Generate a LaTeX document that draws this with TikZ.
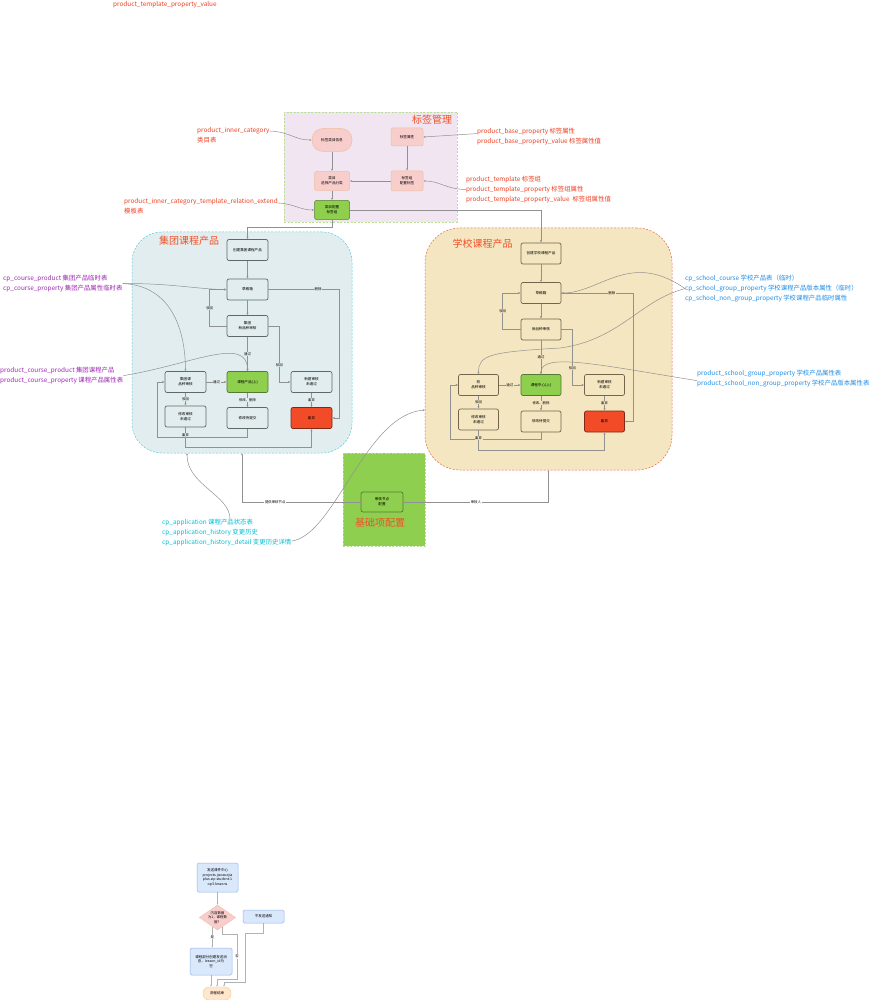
\documentclass[tikz,border=0pt]{standalone}
\usepackage{fontspec}
\setmainfont{Noto Sans CJK SC}
\usetikzlibrary{arrows.meta,positioning,shapes.geometric}

\definecolor{tagbg}{RGB}{240,229,240}
\definecolor{tagline}{RGB}{185,222,150}
\definecolor{grpbg}{RGB}{225,237,238}
\definecolor{grpline}{RGB}{80,205,220}
\definecolor{grpedge}{RGB}{95,105,105}
\definecolor{schbg}{RGB}{243,230,192}
\definecolor{schline}{RGB}{240,100,70}
\definecolor{schedge}{RGB}{115,100,75}
\definecolor{basebg}{RGB}{143,207,79}
\definecolor{baseedge}{RGB}{190,220,160}
\definecolor{okgreen}{RGB}{142,208,78}
\definecolor{okedge}{RGB}{85,120,50}
\definecolor{badred}{RGB}{242,75,40}
\definecolor{badedge}{RGB}{130,40,20}
\definecolor{pinkbox}{RGB}{248,206,204}
\definecolor{pinkedge}{RGB}{240,190,160}
\definecolor{titlered}{RGB}{242,80,40}
\definecolor{tabred}{RGB}{238,62,32}
\definecolor{tabpurple}{RGB}{156,39,176}
\definecolor{tabblue}{RGB}{30,140,230}
\definecolor{tabcyan}{RGB}{0,188,212}
\definecolor{flowblue}{RGB}{218,232,252}
\definecolor{flowedge}{RGB}{150,180,230}
\definecolor{endbox}{RGB}{255,230,204}
\definecolor{endedge}{RGB}{245,200,150}
\definecolor{linegray}{RGB}{145,145,145}

\tikzset{
  txt/.style={font=\fontsize{3.6}{4.8}\selectfont, align=center},
  tab/.style={font=\fontsize{6.4}{9.9}\selectfont, align=left, inner sep=0pt, anchor=north west},
  title/.style={font=\fontsize{10}{12}\selectfont, text=titlered},
  zone/.style={dash pattern=on 2pt off 1.5pt, line width=0.5pt, inner sep=0pt, outer sep=0pt},
  gbox/.style={txt, draw=grpedge, fill=grpbg, line width=0.7pt, rounded corners=2pt,
    minimum width=41pt, minimum height=21pt, inner sep=0.5pt},
  sbox/.style={gbox, draw=schedge, fill=schbg, minimum width=40pt},
  tbox/.style={txt, draw=pinkedge, fill=pinkbox, line width=0.5pt, rounded corners=2pt,
    minimum width=33pt, minimum height=19pt, inner sep=0.5pt},
  okbox/.style={fill=okgreen, draw=okedge},
  badbox/.style={fill=badred, draw=badedge},
  link/.style={draw=linegray, line width=0.5pt, -{Latex[length=2.2pt,width=2pt]}},
  elab/.style={txt, font=\fontsize{3.4}{4}\selectfont, inner sep=0.6pt},
  fbox/.style={txt, font=\fontsize{3.5}{4.6}\selectfont, draw=flowedge, fill=flowblue,
    line width=0.5pt, rounded corners=1.5pt, inner sep=0.5pt},
  flink/.style={draw=black!30, line width=0.5pt, -{Latex[length=2pt,width=1.8pt]}},
}

\begin{document}
\begin{tikzpicture}[x=1pt,y=-1pt]
\useasboundingbox (0,0) rectangle (888,1000);

% areas
\node[zone, draw=tagline, fill=tagbg, minimum width=173pt, minimum height=110pt] (tagzone) at (370.5,167) {};
\node[zone, draw=grpline, fill=grpbg, rounded corners=30pt, minimum width=220pt, minimum height=221pt] (grpzone) at (242,342.5) {};
\node[zone, draw=schline, fill=schbg, rounded corners=35pt, minimum width=247pt, minimum height=242pt] (schzone) at (548.5,349) {};
\node[zone, draw=baseedge, fill=basebg, minimum width=82pt, minimum height=93pt] (basezone) at (384,499.5) {};

\node[title] (tagtitle) at (432,120) {标签管理};
\node[title] (grptitle) at (189,241) {集团课程产品};
\node[title] (schtitle) at (482.5,244) {学校课程产品};
\node[title] (basetitle) at (380,523) {基础项配置};

% tables
\node[tab, text=tabred, anchor=west] (lb0) at (113,5) {product\_template\_property\_value};
\node[tab, text=tabred] (lb1) at (197,127) {product\_inner\_category\\ 类目表};
\node[tab, text=tabred] (lb2) at (124,198) {product\_inner\_category\_template\_relation\_extend\\ 模板表};
\node[tab, text=tabred] (lb3) at (477,128) {product\_base\_property 标签属性\\ product\_base\_property\_value 标签属性值};
\node[tab, text=tabred] (lb4) at (466,176) {product\_template 标签组\\ product\_template\_property 标签组属性\\ product\_template\_property\_value~~标签组属性值};
\node[tab, text=tabpurple] (lb5) at (3,275) {cp\_course\_product 集团产品临时表\\ cp\_course\_property 集团产品属性临时表};
\node[tab, text=tabpurple] (lb6) at (0,367) {product\_course\_product 集团课程产品\\ product\_course\_property 课程产品属性表};
\node[tab, text=tabblue] (lb7) at (685,275) {cp\_school\_course 学校产品表（临时）\\ cp\_school\_group\_property 学校课程产品版本属性（临时）\\ cp\_school\_non\_group\_property 学校课程产品临时属性};
\node[tab, text=tabblue] (lb8) at (697,370) {product\_school\_group\_property 学校产品属性表\\ product\_school\_non\_group\_property 学校产品版本属性表};
\node[tab, text=tabcyan] (lb9) at (162,519) {cp\_application 课程产品状态表\\ cp\_application\_history 变更历史\\ cp\_application\_history\_detail 变更历史详情};

% 标签管理
\node[tbox, rounded corners=11pt, minimum width=40pt, minimum height=23pt] (t1) at (332,140) {标签类目信息};
\node[tbox, minimum width=32pt, minimum height=18pt] (t2) at (407,137) {标签属性};
\node[tbox, minimum width=35pt] (t3) at (332,181) {类目\\选择产品分类};
\node[tbox, minimum width=32pt, minimum height=20pt] (t4) at (407,181) {标签组\\配置标签};
\node[tbox, okbox, minimum width=35pt] (t5) at (332,210) {类目配置\\标签组};

% 集团课程产品
\node[gbox] (g1) at (247.5,250) {创建集团课程产品};
\node[gbox] (g2) at (247.5,289.5) {草稿箱};
\node[gbox] (g3) at (247.5,326) {集团\\新品种审核};
\node[gbox] (g4) at (185.5,382) {集团课\\品种审核};
\node[gbox, okbox] (g5) at (247.5,382) {课程产品(上)};
\node[gbox] (g6) at (311.5,382) {新建审核\\未通过};
\node[gbox] (g7) at (185.5,416.5) {修改审核\\未通过};
\node[gbox] (g8) at (247.5,418) {修改待提交};
\node[gbox, badbox] (g9) at (311.5,418) {废弃};

% 学校课程产品
\node[sbox] (s1) at (541,253.5) {创建学校课程产品};
\node[sbox] (s2) at (541,293) {草稿箱};
\node[sbox] (s3) at (541,329.5) {新品种审核};
\node[sbox] (s4) at (478.5,385) {校\\品种审核};
\node[sbox, okbox] (s5) at (541,385) {课程中心(上)};
\node[sbox] (s6) at (604.5,385) {新建审核\\未通过};
\node[sbox] (s7) at (478.5,419.5) {修改审核\\未通过};
\node[sbox] (s8) at (541,421.5) {修改待提交};
\node[sbox, badbox] (s9) at (604.5,421.5) {废弃};

% 基础项配置
\node[gbox, draw=okedge, fill=basebg, minimum width=42pt, minimum height=20pt] (b1) at (382,502) {审核节点\\配置};

\coordinate (gbot) at (187,453);
\coordinate (sleft) at (425,410);

\draw[link] (t1) -- (t3);
\draw[link] (t2) -- (t4);
\draw[link] (t4) -- (t3);
\draw[link] (t3) -- (t5);
\draw[link] (t5.south) -- ++(0,8) -| (g1.north);
\draw[link] (t5.east) -| (s1.north);
\draw[link] ([yshift=4pt]lb1.east) .. controls (290,132) and (295,140) .. (t1.west);
\draw[link] ([yshift=3pt]lb2.east) .. controls (295,204) and (300,210) .. (t5.west);
\draw[link] ([yshift=3pt]lb3.west) -- (t2.east);
\draw[link] (lb4.west) .. controls (445,189) and (440,181) .. (t4.east);

\draw[link] (g1) -- (g2);
\draw[link] (g2) -- (g3);
\draw[link] (g3) -- node[elab, fill=grpbg]{通过} (g5);
\draw[link] (g2.east) -- node[elab, fill=grpbg, pos=0.7]{删除} ++(71,0) |- (g9.east);
\draw[link] (g3.west) -- ++(-17,0) |- node[elab, fill=grpbg, pos=0.25]{驳回} (g2.west);
\draw[link] (g3.east) -- ++(11,0) |- node[elab, fill=grpbg, pos=0.35]{驳回} (g6.west);
\draw[link] (g4) -- node[elab, fill=grpbg]{通过} (g5);
\draw[link] (g4) -- node[elab, fill=grpbg]{驳回} (g7);
\draw[link] (g5) -- node[elab, fill=grpbg]{修改、删除} (g8);
\draw[link] (g6) -- node[elab, fill=grpbg]{废弃} (g9);
\draw[link] (g8.south) |- (157,437) |- (g4.west);
\draw[link] (g7.south) -- node[elab, fill=grpbg, pos=0.4]{废弃} ++(0,19.5) -| (g9.south);

\draw[link] (s1) -- (s2);
\draw[link] (s2) -- (s3);
\draw[link] (s3) -- node[elab, fill=schbg]{通过} (s5);
\draw[link] (s2.east) -- node[elab, fill=schbg, pos=0.7]{删除} ++(72,0) |- (s9.east);
\draw[link] (s3.west) -- ++(-18,0) |- node[elab, fill=schbg, pos=0.25]{驳回} (s2.west);
\draw[link] (s3.east) -- ++(11,0) |- node[elab, fill=schbg, pos=0.35]{驳回} (s6.west);
\draw[link] (s4) -- node[elab, fill=schbg]{通过} (s5);
\draw[link] (s4) -- node[elab, fill=schbg]{驳回} (s7);
\draw[link] (s5) -- node[elab, fill=schbg]{修改、删除} (s8);
\draw[link] (s6) -- node[elab, fill=schbg]{废弃} (s9);
\draw[link] (s8.south) |- (450,439) |- (s4.west);
\draw[link] (s7.south) -- node[elab, fill=schbg, pos=0.4]{废弃} ++(0,19.5) -| (s9.south);

\draw[link] (lb5.east) .. controls (170,283) and (200,289.5) .. (g2.west);
\draw[link] (lb5.east) .. controls (165,285) and (185,320) .. (g4.north);
\draw[link] (lb6.east) .. controls (190,365) and (247,335) .. (g5.north);
\draw[link] (lb7.west) .. controls (630,250) and (600,293) .. (s2.east);
\draw[link] (lb7.west) .. controls (640,300) and (620,340) .. (560,348) .. controls (490,352) and (478.5,355) .. (s4.north);
\draw[link] ([yshift=-2pt]lb8.west) .. controls (600,365) and (541,352) .. (s5.north);
\draw[link] ([xshift=68pt]lb9.north west) .. controls (230,495) and (187,485) .. (gbot);
\draw[link] ([yshift=5pt]lb9.south east) .. controls (335,535) and (365,415) .. (sleft);

\draw[link] (b1.west) -| node[elab, fill=white, pos=0.36]{提供审核节点} (grpzone.south);
\draw[link] (b1.east) -| node[elab, fill=white, pos=0.25]{审核人} (schzone.south);

% 发送流程
\node[fbox, minimum width=41pt, minimum height=29pt] (f1) at (217.5,877.5) {发送课件中心\\projects.jiaoxuejia\\plus.zip.student-1\\op3-lessons};
\node[diamond, aspect=1.45, inner sep=0pt, draw=pinkedge, fill=pinkbox, txt, font=\fontsize{3.4}{4.4}\selectfont] (f2) at (217.5,917.5) {内容数据\\为1，课程数\\据？};
\node[fbox, minimum width=41pt, minimum height=13pt] (f3) at (263.5,916.5) {不发送通知};
\node[fbox, minimum width=42pt, minimum height=27pt] (f4) at (211,961.5) {课程部分创建发送消\\息，lesson\_id为\\空};
\node[txt, draw=endedge, fill=endbox, rounded corners=6pt, minimum width=28pt, minimum height=13pt, inner sep=0.5pt] (f5) at (217,993.5) {流程结束};

\draw[flink] (f1) -- (f2);
\draw[flink] (f2.240) -- node[elab, fill=white]{是} (f2.240 |- f4.north);
\draw[flink] (f4.south) -- (f4.south |- f5.north);
\draw[flink] (f2.300) |- (237,934) -- node[elab, fill=white]{否} (237,979) -| (f5.north);
\draw[flink] (f3.south) |- (245,933) -- (245,982) -| ([xshift=7pt]f5.north);
\end{tikzpicture}
\end{document}
